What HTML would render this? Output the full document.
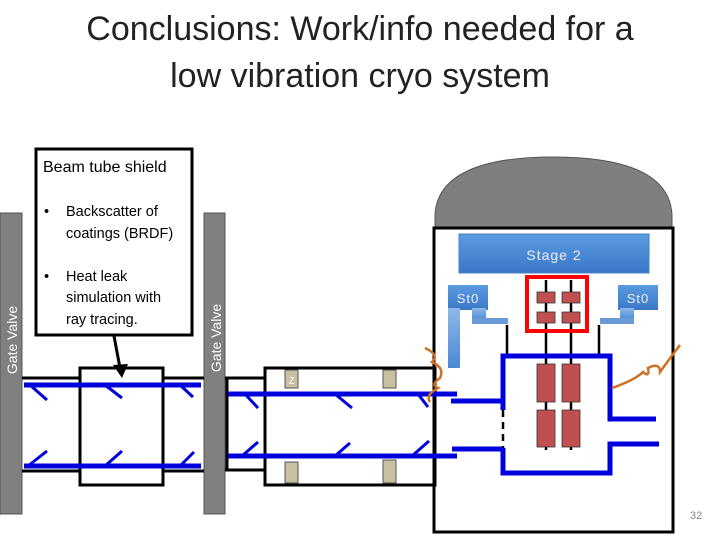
<!DOCTYPE html>
<html><head><style>
body{margin:0;width:720px;height:540px;background:#fff;overflow:hidden;position:relative;font-family:"Liberation Sans",sans-serif}
.t{position:absolute;left:0;width:720px;text-align:center;font-size:34px;color:#222}
</style></head><body>
<div class="t" style="top:10px">Conclusions: Work/info needed for a</div>
<div class="t" style="top:57px">low vibration cryo system</div>
<svg width="720" height="540" style="position:absolute;left:0;top:0">
<defs>
<linearGradient id="g" x1="0" y1="0" x2="0" y2="1"><stop offset="0" stop-color="#5b9be0"/><stop offset="1" stop-color="#3a78c8"/></linearGradient>
<linearGradient id="g2" x1="0" y1="0" x2="0" y2="1"><stop offset="0" stop-color="#8fb8e8"/><stop offset="1" stop-color="#4a88d4"/></linearGradient>
</defs>
<path d="M435 232 L435 215 C437 175 480 157 553 157 C627 157 670 175 672 215 L672 232 Z" fill="#7f7f7f" stroke="#555" stroke-width="1"/>
<rect x="434" y="228" width="239" height="304" fill="#fff" stroke="#000" stroke-width="3"/>
<rect x="0" y="213" width="22" height="301" fill="#808080" stroke="#555"/>
<rect x="204" y="213" width="21" height="301" fill="#808080" stroke="#555"/>
<g fill="none" stroke="#000" stroke-width="3">
<line x1="22" y1="378" x2="80" y2="378"/><line x1="163" y1="378" x2="204" y2="378"/>
<line x1="22" y1="471" x2="80" y2="471"/><line x1="163" y1="471" x2="204" y2="471"/>
<rect x="80" y="368" width="83" height="117"/>
<line x1="225" y1="378" x2="265" y2="378"/><line x1="225" y1="470" x2="265" y2="470"/>
<line x1="227" y1="378" x2="227" y2="470"/>
<rect x="265" y="368" width="170" height="117"/>
</g>
<g stroke="#0000dd" stroke-width="5" fill="none">
<line x1="24" y1="385" x2="201" y2="385"/><line x1="24" y1="466" x2="201" y2="466"/>
<line x1="228" y1="394" x2="457" y2="394"/><line x1="228" y1="456" x2="457" y2="456"/>
</g>
<g stroke="#0000dd" stroke-width="3">
<line x1="30" y1="385" x2="47" y2="400"/><line x1="105" y1="385" x2="122" y2="398"/><line x1="180" y1="385" x2="193" y2="397"/>
<line x1="28" y1="466" x2="47" y2="451"/><line x1="105" y1="466" x2="122" y2="451"/><line x1="180" y1="466" x2="194" y2="452"/>
<line x1="245" y1="394" x2="258" y2="408"/><line x1="335" y1="394" x2="352" y2="408"/><line x1="418" y1="394" x2="428" y2="407"/>
<line x1="242" y1="456" x2="258" y2="442"/><line x1="335" y1="456" x2="350" y2="443"/><line x1="412" y1="456" x2="429" y2="441"/>
</g>
<g fill="#c8c0a0" stroke="#555" stroke-width="1">
<rect x="285" y="370" width="13" height="18"/><rect x="285" y="462" width="13" height="21"/>
<rect x="383" y="370" width="13" height="18"/><rect x="383" y="460" width="13" height="23"/>
</g>
<text x="291.5" y="384" font-size="10" fill="#fff" text-anchor="middle">Z</text>
<rect x="459" y="234" width="190" height="39" fill="url(#g)" stroke="#4a80c0"/>
<text x="554" y="260" font-size="14" fill="#eef" text-anchor="middle" letter-spacing="1">Stage 2</text>
<rect x="448" y="285" width="40" height="25" fill="url(#g)"/>
<rect x="448" y="308" width="12" height="60" fill="url(#g2)"/>
<rect x="472" y="308" width="14" height="12" fill="url(#g2)"/>
<rect x="472" y="318" width="36" height="6" fill="#6a9ad8"/>
<rect x="618" y="285" width="40" height="25" fill="url(#g)"/>
<rect x="620" y="308" width="14" height="12" fill="url(#g2)"/>
<rect x="600" y="318" width="34" height="6" fill="#6a9ad8"/>
<text x="468" y="303" font-size="13" fill="#eef" text-anchor="middle" letter-spacing="1">St0</text>
<text x="638" y="303" font-size="13" fill="#eef" text-anchor="middle" letter-spacing="1">St0</text>
<g stroke="#000" stroke-width="2.5">
<line x1="546" y1="280" x2="546" y2="358"/><line x1="571" y1="280" x2="571" y2="358"/>
<line x1="507" y1="325" x2="507" y2="358"/><line x1="599" y1="325" x2="599" y2="358"/>
<line x1="546" y1="358" x2="546" y2="450"/><line x1="571" y1="358" x2="571" y2="450"/>
</g>
<rect x="527" y="277" width="60" height="54" fill="none" stroke="#f00" stroke-width="4"/>
<g fill="#c05050" stroke="#333" stroke-width="0.8">
<rect x="537" y="292" width="18" height="11"/><rect x="562" y="292" width="18" height="11"/>
<rect x="537" y="312" width="18" height="11"/><rect x="562" y="312" width="18" height="11"/>
<rect x="537" y="364" width="18" height="38"/><rect x="562" y="364" width="18" height="38"/>
<rect x="537" y="410" width="18" height="37"/><rect x="562" y="410" width="18" height="37"/>
</g>
<g stroke="#0000dd" stroke-width="5" fill="none">
<path d="M503 410 L503 356 L610 356 L610 419 L656 419"/>
<path d="M503 448 L503 473 L610 473 L610 444 L659 444"/>
<line x1="451" y1="401" x2="503" y2="401"/><line x1="452" y1="449" x2="503" y2="449"/>
<line x1="503" y1="410" x2="503" y2="448" stroke="#000" stroke-width="2.5" stroke-dasharray="7,5"/>
</g>
<g stroke="#d07020" stroke-width="2.5" fill="none">
<path d="M425 348 Q440 355 432 362 Q445 368 440 378 Q430 385 438 388 Q425 395 430 402"/>
<path d="M612 388 Q635 380 643 372 Q650 378 648 368 Q660 362 660 372 Q670 358 680 345"/>
</g>
<rect x="36" y="149" width="156" height="186" fill="#fff" stroke="#000" stroke-width="3"/>
<line x1="114" y1="336" x2="120" y2="368" stroke="#000" stroke-width="3"/>
<polygon points="113,365 128,364 122,378" fill="#000"/>
<g font-size="14.5" fill="#000">
<text x="43" y="172" font-size="16">Beam tube shield</text>
<text x="44" y="216">•</text><text x="66" y="216">Backscatter of</text><text x="66" y="238">coatings (BRDF)</text>
<text x="44" y="281">•</text><text x="66" y="281">Heat leak</text><text x="66" y="302">simulation with</text><text x="66" y="324">ray tracing.</text>
</g>
<text transform="translate(17,340) rotate(-90)" font-size="14" fill="#fff" text-anchor="middle">Gate Valve</text>
<text transform="translate(221,338) rotate(-90)" font-size="14" fill="#fff" text-anchor="middle">Gate Valve</text>
<text x="690" y="519" font-size="11" fill="#888">32</text>
</svg>
</body></html>
